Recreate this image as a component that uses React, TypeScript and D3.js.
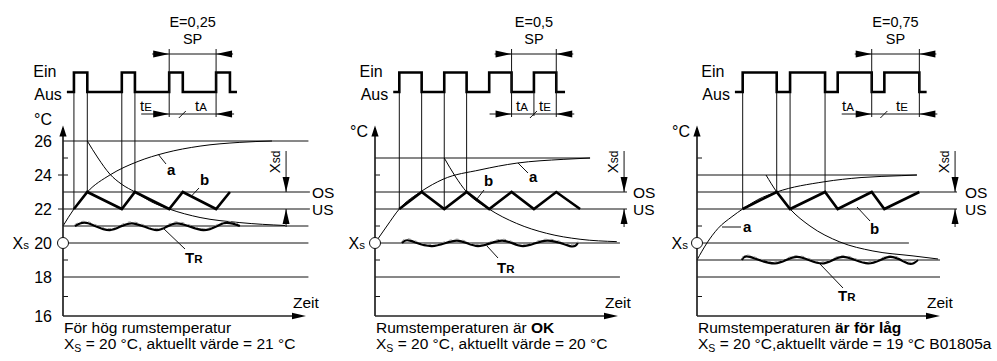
import React from "react";
import * as d3 from "d3";

type Pt = [number, number];

// ---------------- data ----------------
// temperature tick labels (°C) on the first panel
const yTickLabels = [16, 18, 20, 22, 24, 26];
const setpoint = 20; // Xs
const upperSwitch = 23; // OS
const lowerSwitch = 22; // US

// time axis in arbitrary units 0..100 (Zeit)
// Panel 1: E = 0,25, actual 21 °C
const p1Pulses: Pt[] = [[4.5, 10.0], [24.2, 29.6], [43.7, 49.3], [63.0, 68.7]];
const p1PulseSpan = [1.6, 71.6];
const p1B: Pt[] = [[4.5, 22], [10.0, 23], [24.2, 22], [29.6, 23], [43.7, 22], [49.3, 23], [63.0, 22], [68.7, 23]];
const p1A: Pt[] = [[0, 21], [4.5, 22], [10, 23], [19.3, 24], [30.9, 24.8], [42, 25.3], [56.4, 25.7], [72.8, 25.92], [86, 26]];
const p1Cool: Pt[] = [[10, 26], [14.4, 25.0], [19.3, 24.05], [24.2, 23.45], [29.6, 23.0], [36, 22.45], [43.7, 22.0], [56.4, 21.5], [72.8, 21.2], [91.4, 21.03]];
const p1TR: Pt[] = [[4.9, 21], [10.4, 21.16], [19.3, 20.76], [28.3, 21.16], [38.6, 20.76], [46.8, 21.16], [57.7, 20.76], [66.0, 21.16], [72.8, 21]];
const p1Levels: number[][] = [[26, 0, 101], [23, 0, 101.6], [22, 0, 101.6], [21, 0, 101], [20, 0, 101], [18, 0, 101]];
const p1Ticks = [25, 24, 19, 17];

// Panel 2: E = 0,5, actual 20 °C
const p2Pulses: Pt[] = [[10.0, 19.2], [28.5, 37.7], [47.0, 56.2], [65.4, 74.6]];
const p2PulseSpan = [7.5, 78.2];
const p2B: Pt[] = [[10.0, 22], [19.2, 23], [28.5, 22], [37.7, 23], [47.0, 22], [56.2, 23], [65.4, 22], [74.6, 23], [84.4, 22]];
const p2A: Pt[] = [[0, 20], [4.9, 21], [10, 22], [19.2, 23.05], [28, 23.75], [43.2, 24.3], [58.4, 24.7], [77.4, 24.92], [88.5, 25]];
const p2Cool: Pt[] = [[28.5, 25], [32.9, 23.95], [37.7, 23], [46.9, 22], [58.3, 21.15], [70.6, 20.57], [84.4, 20.22], [99.5, 20.08]];
const p2TR: Pt[] = [[11.1, 20], [14.4, 20.14], [23.5, 19.82], [33.7, 20.14], [42.4, 19.82], [52.3, 20.14], [60.9, 19.82], [70.8, 20.14], [80.2, 19.82], [83.5, 20]];
const p2Levels: number[][] = [[25, 0, 88.5], [23, 0, 103.7], [22, 0, 103.7], [20, 0, 100.8], [18, 0, 100.8]];
const p2Ticks = [24, 21, 19, 17];

// Panel 3: E = 0,75, actual 19 °C
const p3Pulses: Pt[] = [[18.8, 32.8], [38.3, 52.7], [57.9, 71.9], [77.1, 91.5]];
const p3PulseSpan = [15.6, 94.5];
const p3B: Pt[] = [[18.8, 22], [32.8, 23], [38.3, 22], [52.7, 23], [57.9, 22], [71.9, 23], [77.1, 22], [91.5, 23]];
const p3A: Pt[] = [[0, 19], [4.1, 20.0], [8.6, 20.85], [14.4, 21.55], [18.8, 22], [25, 22.55], [32.8, 23], [52.3, 23.6], [67.5, 23.85], [84, 23.96], [90.5, 24]];
const p3Cool: Pt[] = [[28.4, 24], [32.8, 23], [38.3, 22], [46.5, 21.0], [58.8, 20.06], [72.4, 19.53], [88.9, 19.24], [99.2, 19.06]];
const p3TR: Pt[] = [[18.5, 19], [21.8, 19.18], [32.1, 18.8], [41.2, 19.18], [51.4, 18.8], [60.1, 19.18], [70.4, 18.8], [79.4, 19.18], [86.8, 18.8], [90.9, 19]];
const p3Levels: number[][] = [[24, 0, 90.5], [23, 0, 107], [22, 0, 107], [20, 0, 87.2], [19, 0, 100], [18, 0, 100]];
const p3Ticks = [25, 21, 17];

// ---------------- layout / scales ----------------
const FONT = "'Liberation Sans', Arial, Helvetica, sans-serif";
const Y = d3.scaleLinear().domain([16, 18, 26]).range([316, 277, 141]);
const PULSE = d3.scaleLinear().domain([0, 1]).range([92, 72.5]);

function Head({ x, y, dir, len = 15, half = 3.3 }: { x: number; y: number; dir: string; len?: number; half?: number }) {
  const p =
    dir === "right" ? [[x, y], [x - len, y - half], [x - len, y + half]]
    : dir === "left" ? [[x, y], [x + len, y - half], [x + len, y + half]]
    : dir === "down" ? [[x, y], [x - half, y - len], [x + half, y - len]]
    : [[x, y], [x - half, y + len], [x + half, y + len]];
  return <polygon points={p.map((q) => q.join(",")).join(" ")} fill="#000" />;
}

interface Cfg {
  axisX: number;
  pulses: Pt[];
  span: number[];
  b: Pt[];
  a: Pt[];
  cool: Pt[];
  tr: Pt[];
  levels: number[][];
  ticks: number[];
  eLabel: string;
  spEdge: 0 | 1;
  dimLeft: number;
  lab1: { t: string; sub: string; x: number };
  lab2: { t: string; sub: string; x: number };
  midVertical: boolean;
  xsdT: number;
  osX: number;
  aLab: { x: number; y: number; l: number[] };
  bLab: { x: number; y: number; l: number[] };
  trLab: { x: number; y: number; l: number[] };
  yLabels: boolean;
  degX: number;
  degY: number;
  xsX: number;
  cap1: [string, boolean][];
  cap2: string;
}

function Panel({ c }: { c: Cfg }) {
  const x = d3.scaleLinear().domain([0, 100]).range([c.axisX, c.axisX + 243]);
  const lin = d3.line<Pt>().x((d) => x(d[0])).y((d) => Y(d[1]));
  const smooth = d3.line<Pt>().x((d) => x(d[0])).y((d) => Y(d[1])).curve(d3.curveMonotoneX);
  const wave = d3.line<Pt>().x((d) => x(d[0])).y((d) => Y(d[1])).curve(d3.curveNatural);
  const pulsePts: Pt[] = [[c.span[0], 0]];
  c.pulses.forEach(([r, f]) => {
    pulsePts.push([r, 0], [r, 1], [f, 1], [f, 0]);
  });
  pulsePts.push([c.span[1], 0]);
  const pulseLine = d3.line<Pt>().x((d) => x(d[0])).y((d) => PULSE(d[1]));

  const ax = c.axisX;
  const yBase = Y(16);
  const tipX = x(100);
  const e0 = x(c.pulses[2][c.spEdge]);
  const e1 = x(c.pulses[3][c.spEdge]);
  const mid = x(c.spEdge === 0 ? c.pulses[2][1] : c.pulses[3][0]);
  const eC = (e0 + e1) / 2;
  const xsdX = x(c.xsdT);
  const aus = PULSE(0);
  const spanStart = x(c.span[0]);
  const txt = { fontFamily: FONT, fill: "#000" } as const;

  return (
    <g>
      {/* level lines */}
      {c.levels.map(([v, t0, t1], i) => (
        <line key={"lv" + i} x1={x(t0)} x2={x(t1)} y1={Y(v)} y2={Y(v)} stroke="#111" strokeWidth={1} />
      ))}
      {/* minor ticks */}
      {c.ticks.map((v) => (
        <line key={"tk" + v} x1={ax} x2={ax + 5} y1={Y(v)} y2={Y(v)} stroke="#111" strokeWidth={1} />
      ))}
      {c.yLabels &&
        [24, 22].map((v) => <line key={"lt" + v} x1={ax - 5} x2={ax} y1={Y(v)} y2={Y(v)} stroke="#111" strokeWidth={1} />)}

      {/* vertical projections from first two pulses */}
      {c.pulses.slice(0, 2).map(([r, f], i) => (
        <g key={"pv" + i}>
          <line x1={x(r)} x2={x(r)} y1={aus} y2={Y(lowerSwitch)} stroke="#111" strokeWidth={1} />
          <line x1={x(f)} x2={x(f)} y1={aus} y2={Y(upperSwitch)} stroke="#111" strokeWidth={1} />
        </g>
      ))}

      {/* curves a and cooling */}
      <path d={smooth(c.a) || ""} fill="none" stroke="#000" strokeWidth={1} />
      <path d={smooth(c.cool) || ""} fill="none" stroke="#000" strokeWidth={1} />
      {/* curve b */}
      <path d={lin(c.b) || ""} fill="none" stroke="#000" strokeWidth={2.6} strokeLinejoin="miter" />
      {/* TR wave */}
      <path d={wave(c.tr) || ""} fill="none" stroke="#000" strokeWidth={2.2} />
      <path d={wave(c.tr) || ""} fill="none" stroke="#999" strokeWidth={1} strokeDasharray="3 4" transform="translate(0,-1.5)" />

      {/* pulse train */}
      <path d={pulseLine(pulsePts) || ""} fill="none" stroke="#000" strokeWidth={2.6} />
      <text {...txt} fontSize={16} x={spanStart - 10.5} y={77} textAnchor="end">Ein</text>
      <text {...txt} fontSize={16} x={spanStart - 5} y={99.5} textAnchor="end">Aus</text>

      {/* SP dimension */}
      <line x1={e0} x2={e0} y1={49} y2={117} stroke="#111" strokeWidth={1} />
      <line x1={e1} x2={e1} y1={49} y2={117} stroke="#111" strokeWidth={1} />
      <line x1={e0 - 17} x2={e1 + 17} y1={54} y2={54} stroke="#111" strokeWidth={1} />
      <Head x={e0} y={54} dir="right" len={16} half={3.5} />
      <Head x={e1} y={54} dir="left" len={16} half={3.5} />
      <text {...txt} fontSize={14.5} x={eC} y={26.5} textAnchor="middle">{c.eLabel}</text>
      <text {...txt} fontSize={14.5} x={eC} y={43.5} textAnchor="middle">SP</text>

      {/* tE / tA dimension */}
      <line x1={e0 - c.dimLeft} x2={e1 + 18} y1={114} y2={114} stroke="#111" strokeWidth={1} />
      <Head x={e0} y={114} dir="right" len={16} half={3.5} />
      <Head x={e1} y={114} dir="left" len={16} half={3.5} />
      <line x1={mid - 4} x2={mid + 3} y1={118} y2={111} stroke="#111" strokeWidth={1} />
      {c.midVertical && <line x1={mid} x2={mid} y1={aus} y2={116} stroke="#111" strokeWidth={1} />}
      <text {...txt} fontSize={15} x={c.lab1.x} y={111}>
        {c.lab1.t}
        <tspan fontSize={11.5}>{c.lab1.sub}</tspan>
      </text>
      <text {...txt} fontSize={15} x={c.lab2.x} y={111}>
        {c.lab2.t}
        <tspan fontSize={11.5}>{c.lab2.sub}</tspan>
      </text>

      {/* Xsd arrows */}
      <line x1={xsdX} x2={xsdX} y1={151} y2={Y(upperSwitch)} stroke="#111" strokeWidth={1} />
      <Head x={xsdX} y={Y(upperSwitch)} dir="down" len={15} half={3.5} />
      <line x1={xsdX} x2={xsdX} y1={Y(21) + 1} y2={Y(lowerSwitch)} stroke="#111" strokeWidth={1} />
      <Head x={xsdX} y={Y(lowerSwitch)} dir="up" len={15} half={3.5} />
      <text {...txt} fontSize={15} transform={`translate(${xsdX - 6.5},${162}) rotate(-90)`} textAnchor="middle">
        X<tspan fontSize={12}>sd</tspan>
      </text>
      <text {...txt} fontSize={15.5} x={c.osX} y={Y(upperSwitch) + 6}>OS</text>
      <text {...txt} fontSize={15.5} x={c.osX} y={Y(lowerSwitch) + 6}>US</text>

      {/* labels a, b, TR */}
      <line x1={c.aLab.l[0]} y1={c.aLab.l[1]} x2={c.aLab.l[2]} y2={c.aLab.l[3]} stroke="#111" strokeWidth={1} />
      <text {...txt} fontSize={15} fontWeight="bold" x={c.aLab.x} y={c.aLab.y}>a</text>
      <line x1={c.bLab.l[0]} y1={c.bLab.l[1]} x2={c.bLab.l[2]} y2={c.bLab.l[3]} stroke="#111" strokeWidth={1} />
      <text {...txt} fontSize={15} fontWeight="bold" x={c.bLab.x} y={c.bLab.y}>b</text>
      <line x1={c.trLab.l[0]} y1={c.trLab.l[1]} x2={c.trLab.l[2]} y2={c.trLab.l[3]} stroke="#111" strokeWidth={1} />
      <text {...txt} fontSize={15} fontWeight="bold" x={c.trLab.x} y={c.trLab.y}>
        T<tspan fontSize={11.5}>R</tspan>
      </text>

      {/* axes */}
      <line x1={ax} x2={ax} y1={yBase} y2={128} stroke="#222" strokeWidth={1.7} />
      <Head x={ax} y={125.5} dir="up" len={11} half={3.6} />
      <line x1={ax} x2={tipX - 4} y1={yBase} y2={yBase} stroke="#222" strokeWidth={1.7} />
      <Head x={tipX} y={yBase} dir="right" len={14} half={3.2} />
      <text {...txt} fontSize={15.5} x={tipX - 13} y={308}>Zeit</text>

      {/* y labels */}
      {c.yLabels &&
        yTickLabels.map((v) => (
          <text key={"yl" + v} {...txt} fontSize={16} x={ax - 11} y={Y(v) + 5.7} textAnchor="end">
            {v}
          </text>
        ))}
      <text {...txt} fontSize={16} x={c.degX} y={c.degY} textAnchor="end">°C</text>

      {/* setpoint circle */}
      <circle cx={ax} cy={Y(setpoint)} r={5.5} fill="#fff" stroke="#111" strokeWidth={1} />
      <text {...txt} fontSize={16} x={c.xsX} y={248.5} textAnchor="end">
        X<tspan fontSize={11.5}>s</tspan>
      </text>

      {/* captions */}
      <text {...txt} fontSize={15.5} x={ax + 1} y={333}>
        {c.cap1.map(([s, b], i) => (
          <tspan key={i} fontWeight={b ? "bold" : "normal"}>{s}</tspan>
        ))}
      </text>
      <text {...txt} fontSize={15.5} x={ax + 1} y={349}>
        X<tspan fontSize={10.5} dy={3}>S</tspan>
        <tspan dy={-3}>{c.cap2}</tspan>
      </text>
    </g>
  );
}

const panels: Cfg[] = [
  {
    axisX: 63, pulses: p1Pulses, span: p1PulseSpan, b: p1B, a: p1A, cool: p1Cool, tr: p1TR,
    levels: p1Levels, ticks: p1Ticks, eLabel: "E=0,25", spEdge: 0, dimLeft: 28,
    lab1: { t: "t", sub: "E", x: 140 }, lab2: { t: "t", sub: "A", x: 195 }, midVertical: false,
    xsdT: 91.8, osX: 312,
    aLab: { x: 167, y: 175, l: [158, 154, 166, 164] },
    bLab: { x: 200, y: 185, l: [191, 196.5, 199, 188] },
    trLab: { x: 185, y: 263, l: [163, 228, 185, 249] },
    yLabels: true, degX: 52, degY: 125, xsX: 29,
    cap1: [["För hög rumstemperatur", false]],
    cap2: " = 20 °C, aktuellt värde = 21 °C",
  },
  {
    axisX: 375, pulses: p2Pulses, span: p2PulseSpan, b: p2B, a: p2A, cool: p2Cool, tr: p2TR,
    levels: p2Levels, ticks: p2Ticks, eLabel: "E=0,5", spEdge: 1, dimLeft: 22,
    lab1: { t: "t", sub: "A", x: 516 }, lab2: { t: "t", sub: "E", x: 539 }, midVertical: true,
    xsdT: 102.5, osX: 633,
    aLab: { x: 529, y: 182, l: [518, 163, 528, 173] },
    bLab: { x: 484, y: 186, l: [477, 199, 484, 190] },
    trLab: { x: 497, y: 273, l: [487, 246, 498, 258] },
    yLabels: false, degX: 368, degY: 137, xsX: 365,
    cap1: [["Rumstemperaturen är ", false], ["OK", true]],
    cap2: " = 20 °C, aktuellt värde = 20 °C",
  },
  {
    axisX: 697, pulses: p3Pulses, span: p3PulseSpan, b: p3B, a: p3A, cool: p3Cool, tr: p3TR,
    levels: p3Levels, ticks: p3Ticks, eLabel: "E=0,75", spEdge: 1, dimLeft: 30,
    lab1: { t: "t", sub: "A", x: 842 }, lab2: { t: "t", sub: "E", x: 896 }, midVertical: false,
    xsdT: 106.2, osX: 965,
    aLab: { x: 743, y: 232, l: [722, 227, 741, 227] },
    bLab: { x: 870, y: 234, l: [857, 207, 870, 221] },
    trLab: { x: 838, y: 301, l: [820, 264, 843, 288] },
    yLabels: false, degX: 690, degY: 137, xsX: 688,
    cap1: [["Rumstemperaturen ", false], ["är för låg", true]],
    cap2: " = 20 °C,aktuellt värde = 19 °C B01805a",
  },
];

export default function App() {
  return (
    <svg
      width={997}
      height={361}
      viewBox="0 0 997 361"
      style={{ position: "absolute", left: 0, top: 0, background: "#fff" }}
    >
      <rect x={0} y={0} width={997} height={361} fill="#fff" />
      {panels.map((c, i) => (
        <Panel key={i} c={c} />
      ))}
    </svg>
  );
}
